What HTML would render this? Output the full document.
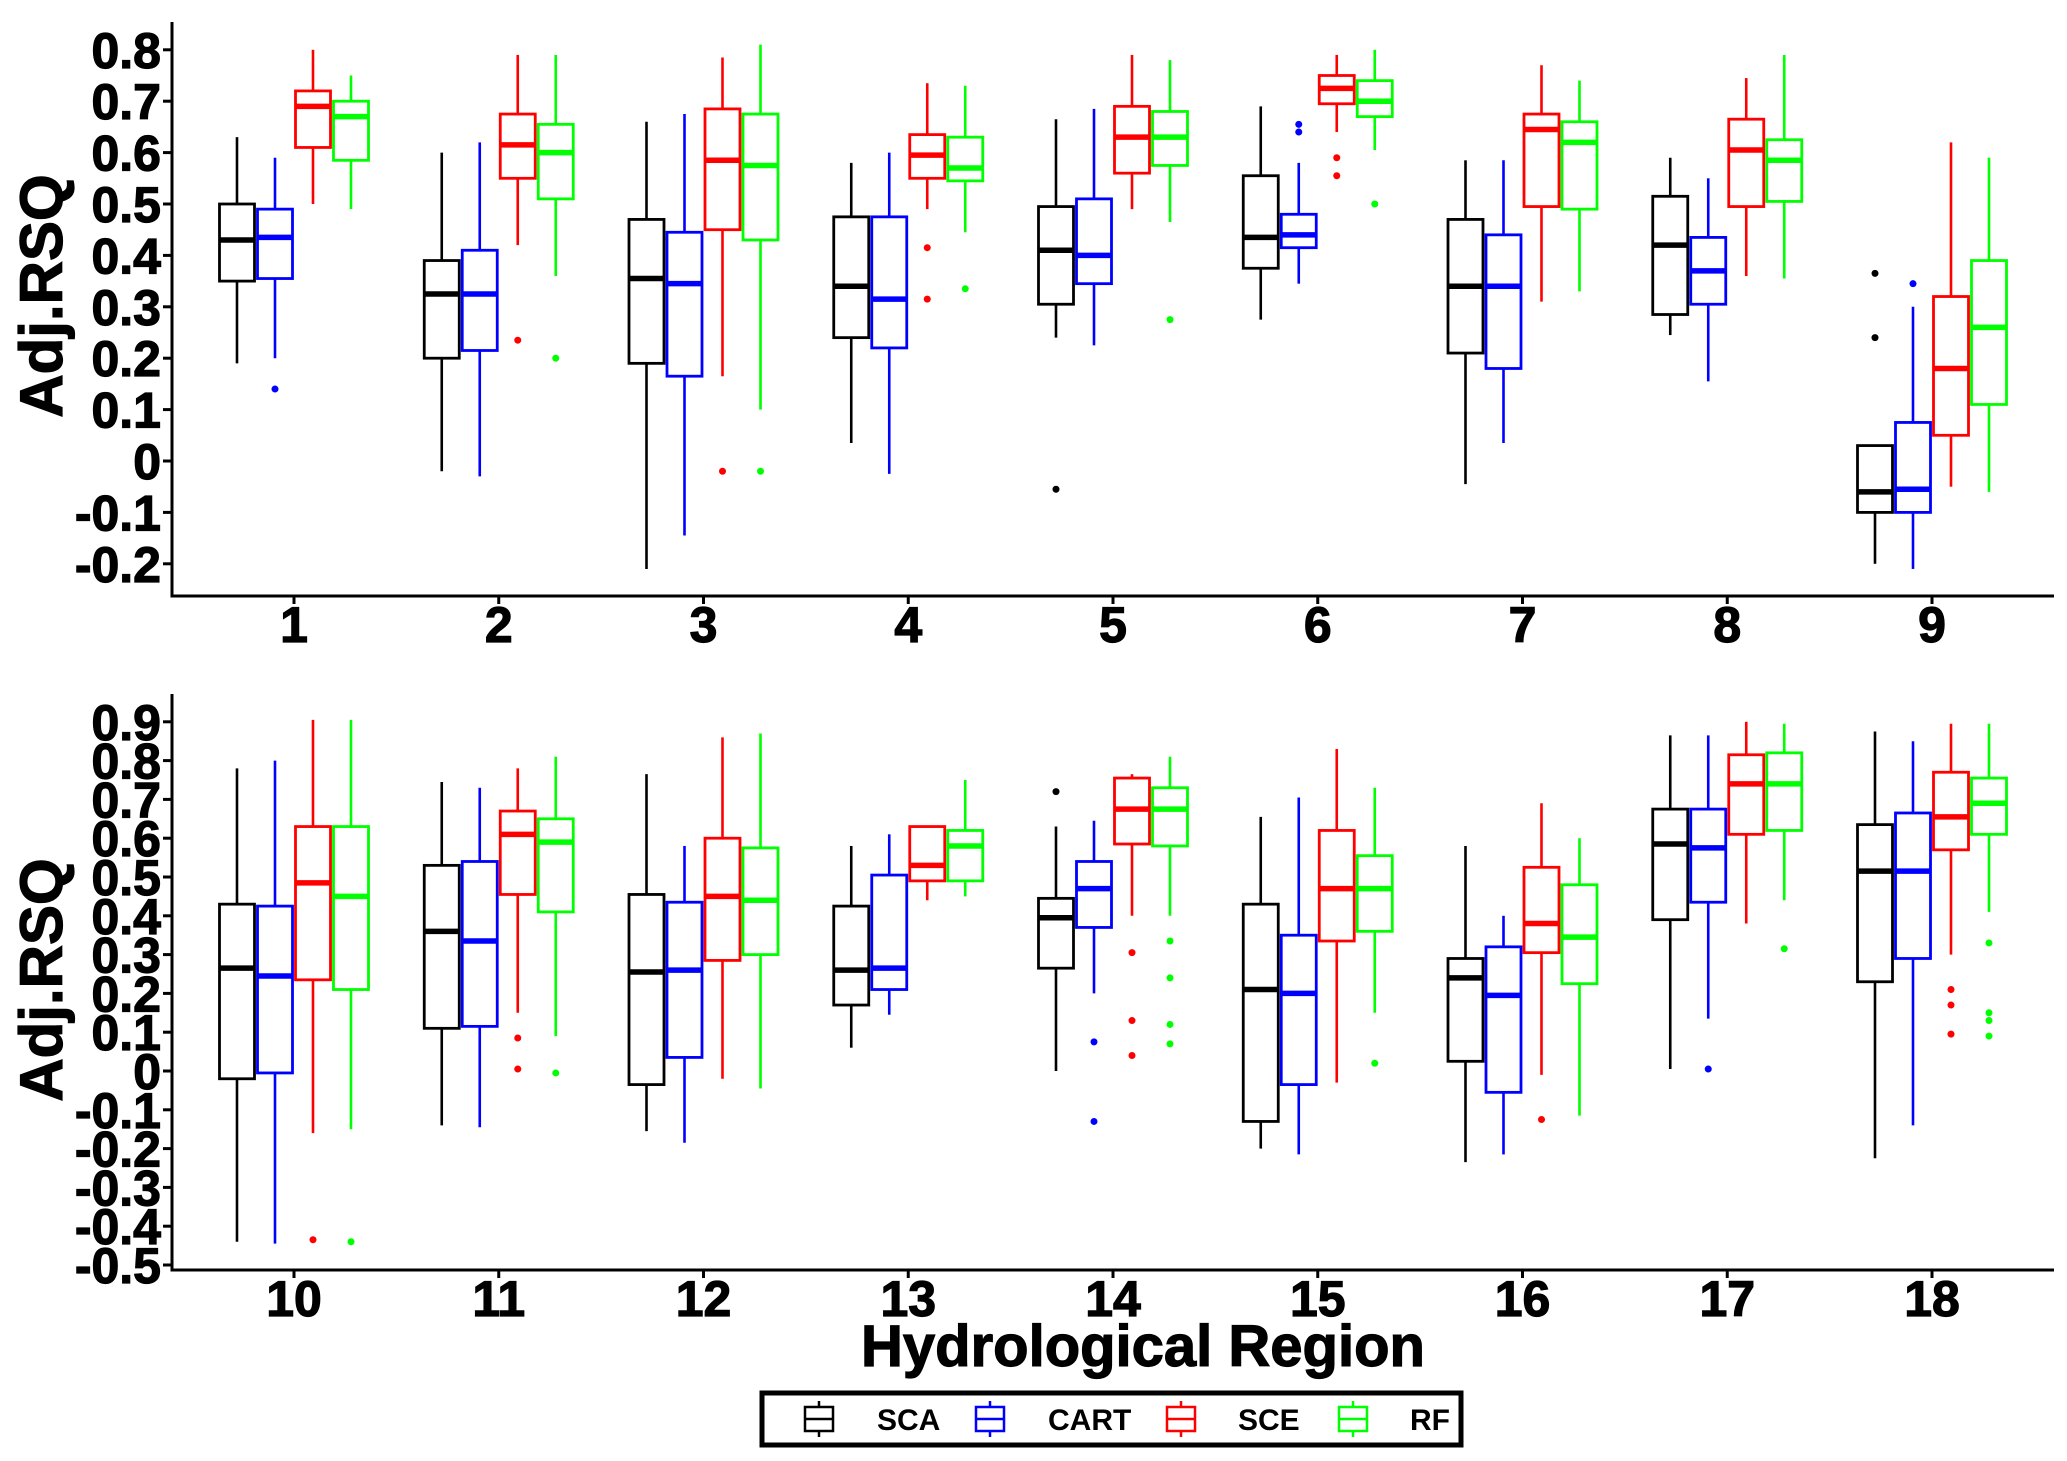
<!DOCTYPE html>
<html><head><meta charset="utf-8"><style>
html,body{margin:0;padding:0;background:#fff;}
svg{display:block;font-family:"Liberation Sans",Arial,sans-serif;font-weight:bold;}
.hv{stroke:#000;stroke-width:1.2;}
</style></head><body>
<svg id="chart" width="2067" height="1461" viewBox="0 0 2067 1461" xmlns="http://www.w3.org/2000/svg">
<rect width="2067" height="1461" fill="#fff"/>
<g id="top"></g>
<g id="bot"></g>
<text class="hv" x="0" y="0" transform="translate(62,296) rotate(-90)" text-anchor="middle" font-size="60">Adj.RSQ</text>
<text class="hv" x="0" y="0" transform="translate(62,980) rotate(-90)" text-anchor="middle" font-size="60">Adj.RSQ</text>
<text class="hv" x="1143" y="1366" text-anchor="middle" font-size="58">Hydrological Region</text>
<g>
<rect x="762" y="1393" width="699" height="52" fill="#fff" stroke="#000" stroke-width="5"/>
<g id="legend-items"></g>
</g>
</svg>
<script>
const series = ["SCA","CART","SCE","RF"];
const colors = ["#000000","#0000ff","#ff0000","#00ff00"];
const topCats = ["1","2","3","4","5","6","7","8","9"];
const botCats = ["10","11","12","13","14","15","16","17","18"];
const topTicks = [0.8,0.7,0.6,0.5,0.4,0.3,0.2,0.1,0,-0.1,-0.2];
const botTicks = [0.9,0.8,0.7,0.6,0.5,0.4,0.3,0.2,0.1,0,-0.1,-0.2,-0.3,-0.4,-0.5];
// each stat: [lowWhisker, q1, median, q3, highWhisker]
const topSCA = [[0.19,0.35,0.43,0.50,0.63],[-0.02,0.20,0.325,0.39,0.60],[-0.21,0.19,0.355,0.47,0.66],[0.035,0.24,0.34,0.475,0.58],[0.24,0.305,0.41,0.495,0.665],[0.275,0.375,0.435,0.555,0.69],[-0.045,0.21,0.34,0.47,0.585],[0.245,0.285,0.42,0.515,0.59],[-0.2,-0.10,-0.06,0.03,0.03]];
const topCART = [[0.20,0.355,0.435,0.49,0.59],[-0.03,0.215,0.325,0.41,0.62],[-0.145,0.165,0.345,0.445,0.675],[-0.025,0.22,0.315,0.475,0.60],[0.225,0.345,0.40,0.51,0.685],[0.345,0.415,0.44,0.48,0.58],[0.035,0.18,0.34,0.44,0.585],[0.155,0.305,0.37,0.435,0.55],[-0.21,-0.10,-0.055,0.075,0.30]];
const topSCE = [[0.50,0.61,0.69,0.72,0.80],[0.42,0.55,0.615,0.675,0.79],[0.165,0.45,0.585,0.685,0.785],[0.49,0.55,0.595,0.635,0.735],[0.49,0.56,0.63,0.69,0.79],[0.64,0.695,0.725,0.75,0.79],[0.31,0.495,0.645,0.675,0.77],[0.36,0.495,0.605,0.665,0.745],[-0.05,0.05,0.18,0.32,0.62]];
const topRF = [[0.49,0.585,0.67,0.70,0.75],[0.36,0.51,0.60,0.655,0.79],[0.10,0.43,0.575,0.675,0.81],[0.445,0.545,0.57,0.63,0.73],[0.465,0.575,0.63,0.68,0.78],[0.605,0.67,0.70,0.74,0.80],[0.33,0.49,0.62,0.66,0.74],[0.355,0.505,0.585,0.625,0.79],[-0.06,0.11,0.26,0.39,0.59]];
const topOutSCA = [[],[],[],[],[-0.055],[],[],[],[0.365,0.24]];
const topOutCART = [[0.14],[],[],[],[],[0.655,0.64],[],[],[0.345]];
const topOutSCE = [[],[0.235],[-0.02],[0.415,0.315],[],[0.59,0.555],[],[],[]];
const topOutRF = [[],[0.20],[-0.02],[0.335],[0.275],[0.50],[],[],[]];
const botSCA = [[-0.44,-0.02,0.265,0.43,0.78],[-0.14,0.11,0.36,0.53,0.745],[-0.155,-0.035,0.255,0.455,0.765],[0.06,0.17,0.26,0.425,0.58],[0.0,0.265,0.395,0.445,0.63],[-0.20,-0.13,0.21,0.43,0.655],[-0.235,0.025,0.24,0.29,0.58],[0.005,0.39,0.585,0.675,0.865],[-0.225,0.23,0.515,0.635,0.875]];
const botCART = [[-0.445,-0.005,0.245,0.425,0.80],[-0.145,0.115,0.335,0.54,0.73],[-0.185,0.035,0.26,0.435,0.58],[0.145,0.21,0.265,0.505,0.61],[0.20,0.37,0.47,0.54,0.645],[-0.215,-0.035,0.20,0.35,0.705],[-0.215,-0.055,0.195,0.32,0.40],[0.135,0.435,0.575,0.675,0.865],[-0.14,0.29,0.515,0.665,0.85]];
const botSCE = [[-0.16,0.235,0.485,0.63,0.905],[0.15,0.455,0.61,0.67,0.78],[-0.02,0.285,0.45,0.60,0.86],[0.44,0.49,0.53,0.63,0.63],[0.40,0.585,0.675,0.755,0.765],[-0.03,0.335,0.47,0.62,0.83],[-0.01,0.305,0.38,0.525,0.69],[0.38,0.61,0.74,0.815,0.90],[0.30,0.57,0.655,0.77,0.895]];
const botRF = [[-0.15,0.21,0.45,0.63,0.905],[0.09,0.41,0.59,0.65,0.81],[-0.045,0.30,0.44,0.575,0.87],[0.45,0.49,0.58,0.62,0.75],[0.40,0.58,0.675,0.73,0.81],[0.15,0.36,0.47,0.555,0.73],[-0.115,0.225,0.345,0.48,0.60],[0.44,0.62,0.74,0.82,0.895],[0.41,0.61,0.69,0.755,0.895]];
const botOutSCA = [[],[],[],[],[0.72],[],[],[],[]];
const botOutCART = [[],[],[],[],[0.075,-0.13],[],[],[0.005],[]];
const botOutSCE = [[-0.435],[0.085,0.005],[],[],[0.305,0.13,0.04],[],[-0.125],[],[0.21,0.17,0.095]];
const botOutRF = [[-0.44],[-0.005],[],[],[0.335,0.24,0.12,0.07],[0.02],[],[0.315],[0.33,0.15,0.13,0.09]];

const NS = "http://www.w3.org/2000/svg";
function mk(tag, attrs, parent){const e=document.createElementNS(NS,tag);for(const k in attrs)e.setAttribute(k,attrs[k]);parent.appendChild(e);return e;}

function drawPanel(g, cfg, cats, ticks, stats, outs, prefix){
  const X0=172, X1=2054, C0=294, DX=204.75;
  const yS = v => cfg.zeroY - v*cfg.unit;
  const xS = i => C0 + i*DX;
  const axes = mk('path',{d:`M${X0},${cfg.top} L${X0},${cfg.bottom} L${X1},${cfg.bottom}`,fill:'none',stroke:'#000','stroke-width':3},g);
  
  
  ticks.forEach(t=>{
    const y=yS(t);
    const tk=mk('line',{x1:X0-9,x2:X0,y1:y,y2:y,stroke:'#000','stroke-width':3},g);
    
    
    const tl=mk('text',{x:X0-11,y:y+18,'text-anchor':'end','font-size':50,'class':'hv'},g);
    tl.textContent = (t===0?'0':String(t));
    
    
  });
  cats.forEach((c,i)=>{
    const x=xS(i);
    const tk=mk('line',{x1:x,x2:x,y1:cfg.bottom,y2:cfg.bottom+8,stroke:'#000','stroke-width':3},g);
    
    
    const tl=mk('text',{x:x,y:cfg.bottom+46,'text-anchor':'middle','font-size':50,'class':'hv'},g);
    tl.textContent=c;
    
    
    const offs=[-57,-19,19,57], w=35;
    series.forEach((s,k)=>{
      const st=stats[k][i], col=colors[k], cx=x+offs[k];
      const bg=mk('g',{},g);
      
      
      mk('line',{x1:cx,x2:cx,y1:yS(st[0]),y2:yS(st[1]),stroke:col,'stroke-width':2.6},bg);
      mk('line',{x1:cx,x2:cx,y1:yS(st[3]),y2:yS(st[4]),stroke:col,'stroke-width':2.6},bg);
      mk('rect',{x:cx-w/2,y:yS(st[3]),width:w,height:Math.max(0.5,yS(st[1])-yS(st[3])),fill:'none',stroke:col,'stroke-width':2.8},bg);
      mk('line',{x1:cx-w/2,x2:cx+w/2,y1:yS(st[2]),y2:yS(st[2]),stroke:col,'stroke-width':5.5},bg);
      outs[k][i].forEach(o=>{
        const p=mk('circle',{cx:cx,cy:yS(o),r:3.5,fill:col},g);
        
        
      });
    });
  });
}
drawPanel(document.getElementById('top'),{zeroY:461,unit:514,top:22,bottom:596},topCats,topTicks,
  [topSCA,topCART,topSCE,topRF],[topOutSCA,topOutCART,topOutSCE,topOutRF],'top');
drawPanel(document.getElementById('bot'),{zeroY:1071,unit:388,top:694,bottom:1270},botCats,botTicks,
  [botSCA,botCART,botSCE,botRF],[botOutSCA,botOutCART,botOutSCE,botOutRF],'bottom');

const lg=document.getElementById('legend-items');
const iconX=[819,990,1181,1353], textX=[877,1048,1238,1410];
series.forEach((s,k)=>{
  const cx=iconX[k], cy=1419, col=colors[k];
  const ic=mk('g',{},lg);
  
  
  mk('line',{x1:cx,x2:cx,y1:cy-18,y2:cy+18,stroke:col,'stroke-width':2.5},ic);
  mk('rect',{x:cx-14,y:cy-12,width:28,height:24,fill:'#fff',stroke:col,'stroke-width':2.5},ic);
  mk('line',{x1:cx-14,x2:cx+14,y1:cy,y2:cy,stroke:col,'stroke-width':2.5},ic);
  const t=mk('text',{x:textX[k],y:cy+11,'font-size':30},lg);
  t.textContent=s;
  
  
});
</script>
</body></html>
